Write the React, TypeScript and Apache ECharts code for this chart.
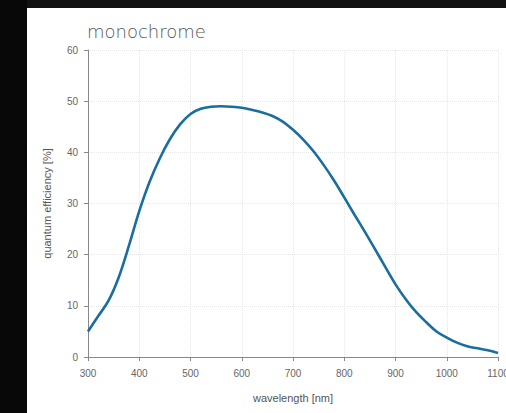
import React, { useEffect, useRef } from "react";
import * as echarts from "echarts";

const wavelengths = [300, 320, 340, 360, 380, 400, 420, 440, 460, 480, 500, 520, 540, 560, 580, 600, 620, 640, 660, 680, 700, 720, 740, 760, 780, 800, 820, 840, 860, 880, 900, 920, 940, 960, 980, 1000, 1020, 1040, 1060, 1080, 1100];
const efficiency = [5.0, 8.0, 11.0, 15.6, 21.8, 28.5, 34.2, 38.8, 42.6, 45.5, 47.5, 48.5, 48.9, 49.0, 48.9, 48.7, 48.3, 47.8, 47.1, 46.0, 44.4, 42.5, 40.2, 37.5, 34.5, 31.2, 27.8, 24.5, 21.1, 17.6, 14.2, 11.3, 8.8, 6.8, 5.0, 3.8, 2.8, 2.1, 1.7, 1.3, 0.8];
const title = "monochrome";
const xName = "wavelength [nm]";
const yName = "quantum efficiency [%]";

export default function App() {
  const ref = useRef<HTMLDivElement>(null);
  useEffect(() => {
    if (!ref.current) return;
    const chart = echarts.init(ref.current, undefined, { renderer: "svg" });
    const labelColor = "#666";
    chart.setOption({
      animation: false,
      backgroundColor: "#121212",
      graphic: [
        { type: "rect", shape: { x: 0, y: 0, width: 27, height: 413 }, style: { fill: "#080808" }, z: -10 },
        { type: "rect", shape: { x: 27, y: 8, width: 479, height: 405 }, style: { fill: "#ffffff" }, z: -10 },
      ],
      title: {
        text: title,
        left: 82,
        top: 17,
        textStyle: { fontFamily: "DejaVu Sans", fontWeight: 200, fontSize: 18, color: "#555" },
      },
      grid: { left: 88, right: 8, top: 50, bottom: 56, outerBoundsMode: "none", containLabel: false },
      xAxis: {
        type: "value",
        min: 300,
        max: 1100,
        interval: 100,
        name: xName,
        nameLocation: "middle",
        nameGap: 35,
        nameTextStyle: { fontFamily: "Liberation Sans", fontSize: 11, color: "#555" },
        axisLine: { lineStyle: { color: "#888", width: 1 } },
        axisTick: { show: true, length: 4, lineStyle: { color: "#888" } },
        axisLabel: { fontFamily: "Liberation Sans", fontSize: 10, color: labelColor, margin: 11, formatter: (v: number) => String(v) },
        splitLine: { show: true, lineStyle: { color: "#e6e6e6", type: "dotted" } },
      },
      yAxis: {
        type: "value",
        min: 0,
        max: 60,
        interval: 10,
        name: yName,
        nameLocation: "middle",
        nameGap: 36,
        nameTextStyle: { fontFamily: "Liberation Sans", fontSize: 11, color: "#555" },
        axisLine: { show: true, lineStyle: { color: "#888", width: 1 } },
        axisTick: { show: true, length: 4, lineStyle: { color: "#888" } },
        axisLabel: { fontFamily: "Liberation Sans", fontSize: 10, color: labelColor, margin: 10 },
        splitLine: { show: true, lineStyle: { color: "#e6e6e6", type: "dotted" } },
      },
      series: [
        {
          type: "line",
          data: wavelengths.map((w, i) => [w, efficiency[i]]),
          smooth: 0.35,
          showSymbol: false,
          lineStyle: { color: "#1a6d9f", width: 2.6 },
        },
      ],
    });
    return () => chart.dispose();
  }, []);
  return <div ref={ref} style={{ position: "absolute", left: 0, top: 0, width: 506, height: 413 }} />;
}
